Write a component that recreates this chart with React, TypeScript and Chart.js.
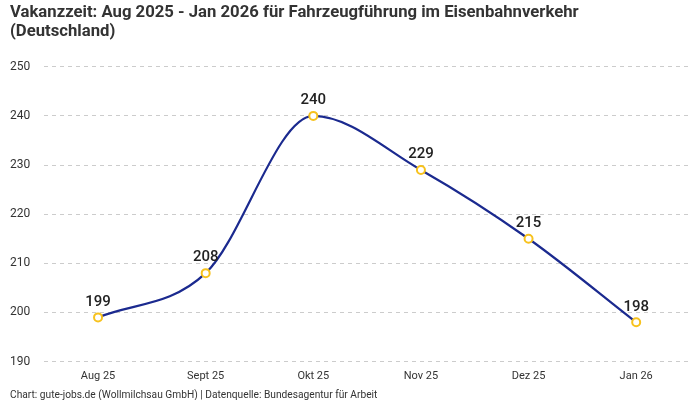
import { useEffect, useRef } from "react";
import { Chart, registerables } from "chart.js";

Chart.register(...registerables);

const months = ["Aug 25", "Sept 25", "Okt 25", "Nov 25", "Dez 25", "Jan 26"];
const vacancyDays = [199, 208, 240, 229, 215, 198];
const titleLines = [
  "Vakanzzeit: Aug 2025 - Jan 2026 für Fahrzeugführung im Eisenbahnverkehr",
  "(Deutschland)",
];
const sourceNote =
  "Chart: gute-jobs.de (Wollmilchsau GmbH) | Datenquelle: Bundesagentur für Arbeit";

const FONT = "Roboto, 'Noto Sans', sans-serif";

// draws the value above each point
const valueLabels = {
  id: "valueLabels",
  afterDatasetsDraw(chart: Chart) {
    const { ctx } = chart;
    const meta = chart.getDatasetMeta(0);
    ctx.save();
    ctx.font = `500 15px ${FONT}`;
    ctx.fillStyle = "#222";
    ctx.textAlign = "center";
    ctx.textBaseline = "bottom";
    meta.data.forEach((pt, i) => {
      ctx.fillText(String(vacancyDays[i]), pt.x, pt.y - 8);
    });
    ctx.restore();
  },
};

export default function App() {
  const canvasRef = useRef<HTMLCanvasElement>(null);
  const chartRef = useRef<Chart | null>(null);

  useEffect(() => {
    document.body.style.margin = "0";
    if (!canvasRef.current) return;
    const ctx = canvasRef.current.getContext("2d");
    if (!ctx) return;

    if (chartRef.current) chartRef.current.destroy();

    chartRef.current = new Chart(ctx, {
      type: "line",
      data: {
        labels: months,
        datasets: [
          {
            data: vacancyDays,
            borderColor: "#1b2a8f",
            borderWidth: 2.2,
            cubicInterpolationMode: "monotone",
            pointRadius: 4,
            pointBorderWidth: 2,
            pointBackgroundColor: "#ffffff",
            pointBorderColor: "#f7c21e",
          },
        ],
      },
      options: {
        responsive: true,
        maintainAspectRatio: false,
        animation: false,
        layout: { padding: { left: 10, right: 10, top: 4, bottom: 0 } },
        plugins: {
          legend: { display: false },
          tooltip: { enabled: false },
          title: {
            display: true,
            text: titleLines,
            align: "start",
            color: "#333",
            font: { family: FONT, size: 16.7, weight: "bold", lineHeight: 1.1 },
            padding: { top: 0, bottom: 26 },
          },
          subtitle: {
            display: true,
            text: sourceNote,
            position: "bottom",
            align: "start",
            color: "#333",
            font: { family: FONT, size: 10.2, lineHeight: 0.9 },
            padding: { top: 8, bottom: 0 },
          },
        },
        scales: {
          x: {
            offset: true,
            grid: { display: false },
            border: { display: false },
            ticks: { color: "#333", font: { family: FONT, size: 11 }, padding: 0 },
          },
          y: {
            min: 190,
            max: 250,
            ticks: {
              stepSize: 10,
              color: "#333",
              font: { family: FONT, size: 12 },
              padding: 7,
              crossAlign: "far",
            },
            grid: { color: "#cccccc", drawTicks: false },
            border: { display: false, dash: [4, 4] },
          },
        },
      },
      plugins: [valueLabels],
    });

    return () => {
      if (chartRef.current) chartRef.current.destroy();
    };
  }, []);

  return (
    <div style={{ position: "relative", width: 700, height: 400, background: "#fff" }}>
      <canvas ref={canvasRef} />
    </div>
  );
}
